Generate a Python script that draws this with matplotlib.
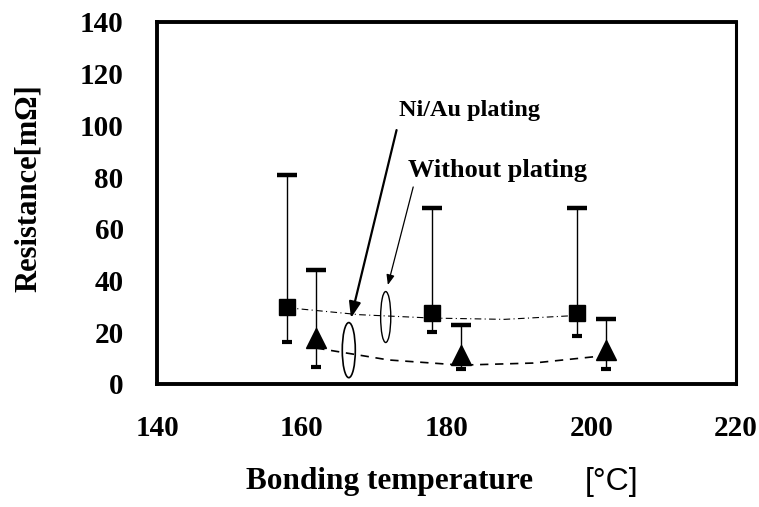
import matplotlib
matplotlib.use("Agg")
import matplotlib.pyplot as plt
from matplotlib.patches import Ellipse

plt.rcParams['font.family'] = ['Liberation Serif', 'DejaVu Serif']

# Without plating (squares) and Ni/Au plating (triangles)
temp_sq = [158, 178, 198]
res_sq = [29.8, 27.5, 27.5]
max_sq = [81.0, 68.0, 68.0]
min_sq = [16.2, 20.0, 18.6]

temp_tri = [162, 182, 202]
res_tri = [17.8, 11.2, 13.1]
max_tri = [44.0, 22.8, 25.1]
min_tri = [6.6, 5.8, 5.8]

# trend curves
trend_x_sq = [158, 168, 178, 188, 198]
trend_y_sq = [29.5, 26.8, 25.5, 25.0, 26.5]
trend_x_tri = [162, 172, 182, 192, 202]
trend_y_tri = [13.9, 9.3, 7.3, 8.1, 11.0]

xticks = [140, 160, 180, 200, 220]
yticks = [0, 20, 40, 60, 80, 100, 120, 140]

fig = plt.figure(figsize=(7.59, 5.07), dpi=100)
ax = fig.add_axes([157 / 759, 1 - 384 / 507, (736 - 157) / 759, (384 - 22) / 507])

# trend lines
ax.plot(trend_x_sq, trend_y_sq, color='black', lw=0.8, ls=(0, (6, 3, 1, 3)), zorder=2)
ax.plot(trend_x_tri, trend_y_tri, color='black', lw=1.2, ls=(0, (5, 4)), zorder=2)

# range bars
ax.vlines(temp_sq, min_sq, max_sq, color='black', lw=1.0, zorder=3)
ax.vlines(temp_tri, min_tri, max_tri, color='black', lw=1.0, zorder=3)
ax.plot(temp_sq, max_sq, ls='none', marker='_', ms=15, mew=3.2, color='black', zorder=4)
ax.plot(temp_tri, max_tri, ls='none', marker='_', ms=15, mew=3.2, color='black', zorder=4)
ax.plot(temp_sq, min_sq, ls='none', marker='_', ms=7, mew=3.0, color='black', zorder=4)
ax.plot(temp_tri, min_tri, ls='none', marker='_', ms=7, mew=3.0, color='black', zorder=4)

# mean markers
ax.plot(temp_sq, res_sq, ls='none', marker='s', ms=12, color='black', zorder=5)
ax.plot(temp_tri, res_tri, ls='none', marker='^', ms=14, color='black', zorder=5)

# ellipses marking each series
ax.add_patch(Ellipse((166.5, 13.1), 1.8, 21.3, fill=False, lw=1.2, ec='black', zorder=6))
ax.add_patch(Ellipse((171.6, 25.9), 1.4, 19.7, fill=False, lw=1.0, ec='black', zorder=6))

ax.annotate('', xy=(166.8, 25.5), xytext=(173.1, 98.2),
            arrowprops=dict(arrowstyle='-|>,head_length=0.6,head_width=0.22',
                            color='black', lw=1.6, mutation_scale=16,
                            shrinkA=0, shrinkB=0))
ax.annotate('', xy=(171.9, 38.3), xytext=(175.4, 76.2),
            arrowprops=dict(arrowstyle='-|>,head_length=0.5,head_width=0.2',
                            color='black', lw=0.9, mutation_scale=12,
                            shrinkA=0, shrinkB=0))
ax.text(183.2, 105.6, 'Ni/Au plating', fontsize=17.5, fontweight='bold',
        ha='center', va='center')
ax.text(187.0, 82.7, 'Without plating', fontsize=19, fontweight='bold',
        ha='center', va='center')

ax.set_xlim(140, 220)
ax.set_ylim(0, 140)
ax.set_xticks(xticks)
ax.set_yticks(yticks)
ax.tick_params(axis='both', length=0, labelsize=21)
ax.tick_params(axis='x', pad=22)
ax.tick_params(axis='y', pad=24)
for lab in ax.get_xticklabels() + ax.get_yticklabels():
    lab.set_fontweight('bold')
for sp in ax.spines.values():
    sp.set_linewidth(2.8)
ax.spines['right'].set_linewidth(2.2)

fig.text(28 / 759, 1 - 188 / 507, 'Resistance[mΩ]', rotation=90, fontsize=22,
         fontweight='bold', ha='center', va='center')
fig.text(389 / 759, 1 - 482 / 507, 'Bonding temperature', fontsize=22.5,
         fontweight='bold', ha='center', va='center')
fig.text(612 / 759, 1 - 482 / 507, '[°C]', fontsize=23, family='Liberation Sans',
         ha='center', va='center')

fig.savefig('out.png', dpi=100)
